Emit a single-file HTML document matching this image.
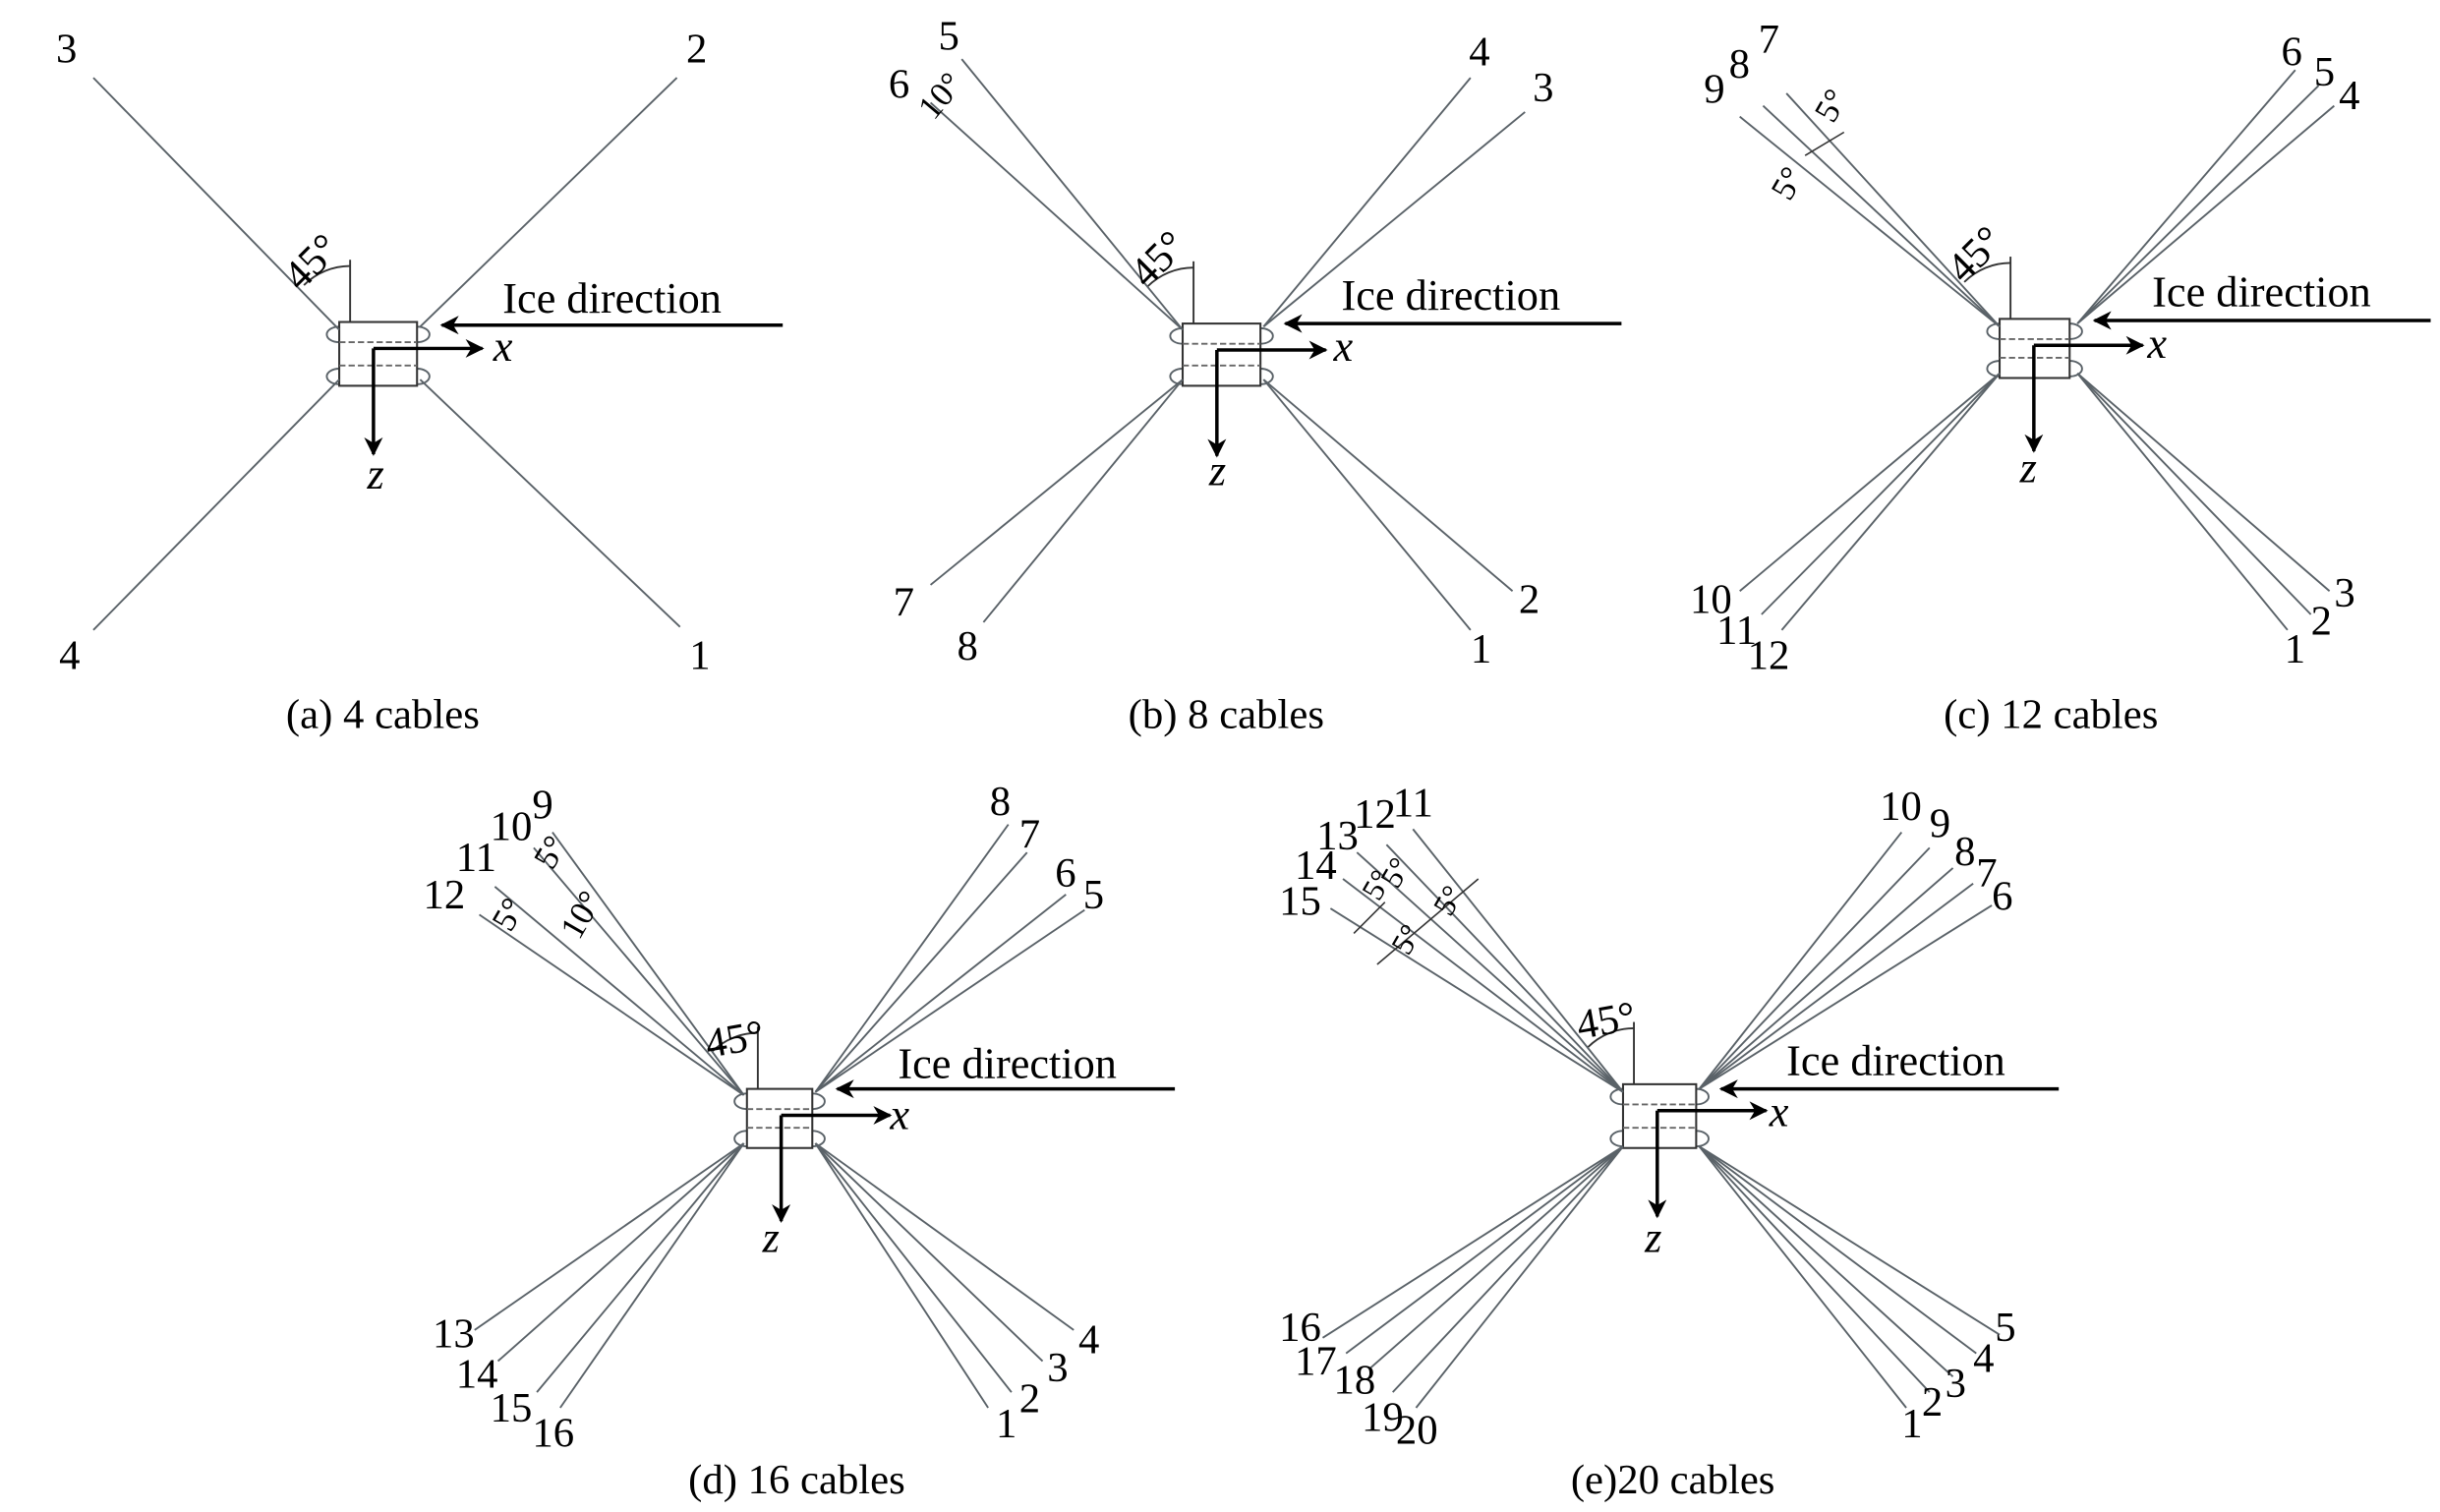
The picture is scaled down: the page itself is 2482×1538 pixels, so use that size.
<!DOCTYPE html>
<html><head><meta charset="utf-8">
<style>
html,body{margin:0;padding:0;background:#fff;}
svg{display:block;}
text{font-family:"Liberation Serif",serif;fill:#000;}
.n{font-size:27px;}
.c{font-size:27px;text-anchor:middle;}
.ice{font-size:28px;}
.ax{font-size:28px;font-style:italic;}
</style></head><body>
<svg id="s" width="2482" height="1538" viewBox="0 0 1568 972" preserveAspectRatio="none" xmlns="http://www.w3.org/2000/svg">
<defs>
<marker id="ah" viewBox="0 0 10 10" refX="9" refY="5" markerWidth="12" markerHeight="12" orient="auto-start-reverse" markerUnits="userSpaceOnUse">
<path d="M0,0 L10,5 L0,10 L3,5 Z" fill="#000"/></marker>
</defs>
<g id="g"></g>
<!-- Panel a labels -->
<text class="n" x="36" y="40">3</text><text class="n" x="441" y="40">2</text>
<text class="n" x="38" y="430">4</text><text class="n" x="443" y="430">1</text>
<text class="ice" x="323" y="201">Ice direction</text>
<text class="ax" x="317" y="232">x</text><text class="ax" x="236" y="314">z</text>
<text class="n" transform="translate(193,188) rotate(-45)">45°</text>
<text class="c" x="246" y="468">(a) 4 cables</text>
<!-- Panel b -->
<text class="n" x="603" y="32">5</text><text class="n" x="571" y="63">6</text>
<text class="n" transform="translate(600,78) rotate(-50)" style="font-size:22px">10°</text>
<text class="n" x="944" y="42">4</text><text class="n" x="985" y="65">3</text>
<text class="n" x="574" y="396">7</text><text class="n" x="615" y="424">8</text>
<text class="n" x="976" y="394">2</text><text class="n" x="945" y="426">1</text>
<text class="ice" x="862" y="199">Ice direction</text>
<text class="ax" x="857" y="232">x</text><text class="ax" x="777" y="312">z</text>
<text class="n" transform="translate(737,186) rotate(-45)">45°</text>
<text class="c" x="788" y="468">(b) 8 cables</text>
<!-- Panel c -->
<text class="n" x="1095" y="66">9</text><text class="n" x="1111" y="50">8</text><text class="n" x="1130" y="34">7</text>
<text class="n" transform="translate(1178,80) rotate(-60)" style="font-size:22px">5°</text>
<text class="n" transform="translate(1150,130) rotate(-60)" style="font-size:22px">5°</text>
<text class="n" x="1466" y="42">6</text><text class="n" x="1487" y="55">5</text><text class="n" x="1503" y="70">4</text>
<text class="n" x="1086" y="394">10</text><text class="n" x="1103" y="414">11</text><text class="n" x="1123" y="430">12</text>
<text class="n" x="1468" y="426">1</text><text class="n" x="1485" y="408">2</text><text class="n" x="1500" y="390">3</text>
<text class="ice" x="1383" y="197">Ice direction</text>
<text class="ax" x="1380" y="230">x</text><text class="ax" x="1298" y="310">z</text>
<text class="n" transform="translate(1262,183) rotate(-45)">45°</text>
<text class="c" x="1318" y="468">(c) 12 cables</text>
<!-- Panel d -->
<text class="n" x="342" y="526">9</text><text class="n" x="315" y="540">10</text>
<text class="n" x="293" y="560">11</text><text class="n" x="272" y="584">12</text>
<text class="n" transform="translate(355,560) rotate(-60)" style="font-size:22px">5°</text>
<text class="n" transform="translate(328,600) rotate(-60)" style="font-size:22px">5°</text>
<text class="n" transform="translate(372,605) rotate(-60)" style="font-size:22px">10°</text>
<text class="n" x="636" y="524">8</text><text class="n" x="655" y="545">7</text>
<text class="n" x="678" y="570">6</text><text class="n" x="696" y="584">5</text>
<text class="n" x="278" y="866">13</text><text class="n" x="293" y="892">14</text>
<text class="n" x="315" y="914">15</text><text class="n" x="342" y="930">16</text>
<text class="n" x="640" y="924">1</text><text class="n" x="655" y="908">2</text>
<text class="n" x="673" y="888">3</text><text class="n" x="693" y="870">4</text>
<text class="ice" x="577" y="693">Ice direction</text>
<text class="ax" x="572" y="726">x</text><text class="ax" x="490" y="805">z</text>
<text class="n" transform="translate(455,680) rotate(-10)">45°</text>
<text class="c" x="512" y="960">(d) 16 cables</text>
<!-- Panel e -->
<text class="n" x="895" y="525">11</text><text class="n" x="870" y="532">12</text>
<text class="n" x="846" y="546">13</text><text class="n" x="832" y="565">14</text><text class="n" x="822" y="588">15</text>
<text class="n" transform="translate(886,580) rotate(-60)" style="font-size:20px">5°</text>
<text class="n" transform="translate(898,572) rotate(-60)" style="font-size:20px">5°</text>
<text class="n" transform="translate(932,590) rotate(-60)" style="font-size:20px">5°</text>
<text class="n" transform="translate(905,615) rotate(-60)" style="font-size:20px">5°</text>
<text class="n" x="1208" y="527">10</text><text class="n" x="1240" y="538">9</text>
<text class="n" x="1256" y="556">8</text><text class="n" x="1270" y="570">7</text><text class="n" x="1280" y="585">6</text>
<text class="n" x="822" y="862">16</text><text class="n" x="832" y="884">17</text>
<text class="n" x="857" y="896">18</text><text class="n" x="875" y="920">19</text><text class="n" x="897" y="928">20</text>
<text class="n" x="1222" y="924">1</text><text class="n" x="1235" y="910">2</text>
<text class="n" x="1250" y="898">3</text><text class="n" x="1268" y="882">4</text><text class="n" x="1282" y="862">5</text>
<text class="ice" x="1148" y="691">Ice direction</text>
<text class="ax" x="1137" y="724">x</text><text class="ax" x="1057" y="805">z</text>
<text class="n" transform="translate(1015,668) rotate(-10)">45°</text>
<text class="c" x="1075" y="960">(e)20 cables</text>
</svg>
<script>
var g=document.getElementById('g'),NS='http://www.w3.org/2000/svg';
function el(t,a){var e=document.createElementNS(NS,t);for(var k in a)e.setAttribute(k,a[k]);g.appendChild(e);return e;}
function ln(x1,y1,x2,y2,c,w,extra){var a={x1:x1,y1:y1,x2:x2,y2:y2,stroke:c||'#5a6268','stroke-width':w||1.2};if(extra)for(var k in extra)a[k]=extra[k];return el('line',a);}
function buoy(x0,y0,x1,y1,iceX,iceY){
 var w=x1-x0;
 [[x0,y0+8],[x1,y0+8],[x0,y1-6],[x1,y1-6]].forEach(function(p){el('ellipse',{cx:p[0],cy:p[1],rx:8,ry:5,fill:'none',stroke:'#5a6268','stroke-width':1.2});});
 el('rect',{x:x0,y:y0,width:w,height:y1-y0,fill:'#fff',stroke:'#333','stroke-width':1.3});
 ln(x0,y0+13,x1,y0+13,'#666',1.2,{'stroke-dasharray':'4,2'});
 ln(x0,y1-13,x1,y1-13,'#666',1.2,{'stroke-dasharray':'4,2'});
 ln(x0+7,y0,x0+7,y0-40,'#333',1.2);
 var ox=x0+22,oy=y0+17;
 ln(ox,oy,ox+70,oy,'#000',2.2,{'marker-end':'url(#ah)'});
 ln(ox,oy,ox,oy+68,'#000',2.2,{'marker-end':'url(#ah)'});
 ln(iceX,iceY,x1+16,iceY,'#000',2.2,{'marker-end':'url(#ah)'});
 var cx=x0+7,cy=y0+6,r=42;
 el('path',{d:'M'+cx+','+(cy-r)+' A'+r+','+r+' 0 0 0 '+(cx-r*0.707)+','+(cy-r*0.707),fill:'none',stroke:'#333','stroke-width':1.2});
}
function fan(sx,sy,ends){ends.forEach(function(p){ln(sx,sy,p[0],p[1]);});}
buoy(218,207,268,248,503,209);
fan(218,212,[[60,50]]);fan(270,210,[[435,50]]);fan(218,244,[[60,405]]);fan(270,244,[[437,403]]);
buoy(760,208,810,248,1042,208);
fan(760,212,[[618,38],[598,66]]);fan(812,210,[[945,50],[980,72]]);
fan(760,244,[[598,376],[632,400]]);fan(812,244,[[972,380],[945,405]]);
buoy(1285,205,1330,243,1562,206);
fan(1285,210,[[1118,75],[1133,68],[1148,60]]);fan(1335,208,[[1475,45],[1490,55],[1500,68]]);
fan(1285,240,[[1118,380],[1132,395],[1145,405]]);fan(1335,240,[[1470,405],[1485,395],[1497,380]]);
buoy(480,700,522,738,755,700);
fan(478,704,[[355,535],[343,545],[318,570],[308,588]]);fan(524,702,[[648,530],[660,548],[685,575],[697,585]]);
fan(478,735,[[305,855],[320,875],[345,895],[360,905]]);fan(524,735,[[635,905],[650,895],[670,875],[690,855]]);
buoy(1043,697,1090,738,1323,700);
fan(1043,702,[[908,533],[891,543],[872,548],[863,565],[855,584]]);
fan(1092,700,[[1222,535],[1240,545],[1255,558],[1268,568],[1280,582]]);
fan(1043,737,[[850,860],[865,870],[880,880],[895,895],[910,905]]);
fan(1092,737,[[1225,905],[1240,895],[1255,885],[1270,870],[1285,858]]);
ln(1160,100,1185,85,'#333',1);ln(885,620,950,565,'#333',1);ln(870,600,890,580,'#333',1);
</script>
</body></html>
